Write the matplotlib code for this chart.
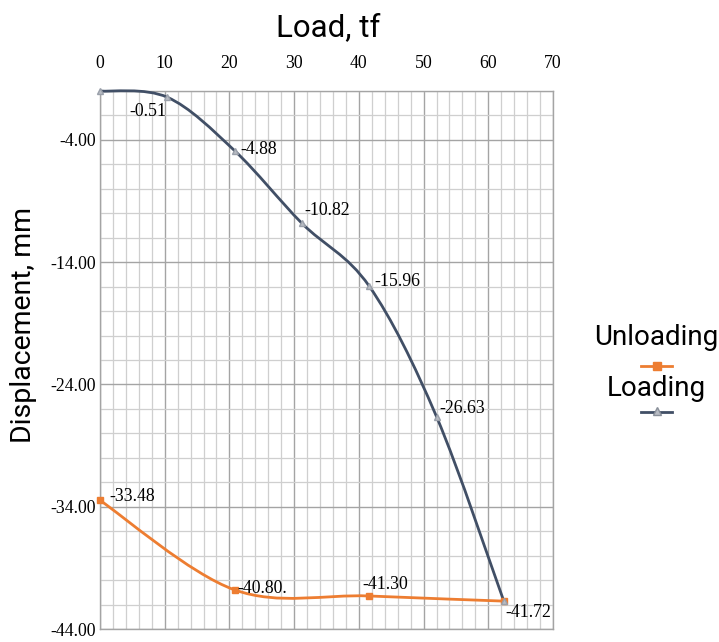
import numpy as np
import matplotlib
matplotlib.use("Agg")
import matplotlib.pyplot as plt
from matplotlib.path import Path
from matplotlib.patches import PathPatch
from matplotlib.lines import Line2D
from matplotlib.ticker import MultipleLocator, FixedLocator

# ---- data ----
load_loading = [0, 10.4, 20.8, 31.2, 41.6, 52.0, 62.4]
disp_loading = [0.0, -0.51, -4.88, -10.82, -15.96, -26.63, -41.72]
labels_loading = [None, "-0.51", "-4.88", "-10.82", "-15.96", "-26.63", "-41.72"]

load_unloading = [0, 20.8, 41.6, 62.4]
disp_unloading = [-33.48, -40.80, -41.30, -41.72]
labels_unloading = ["-33.48", "-40.80.", "-41.30", None]

x_ticks = [0, 10, 20, 30, 40, 50, 60, 70]
y_ticks = [-44, -34, -24, -14, -4]

series_names = ["Unloading", "Loading"]
c_load = "#414F66"
c_unload = "#ED7D31"

serif = ["Liberation Serif", "DejaVu Serif"]
sans = ["Roboto", "DejaVu Sans"]
fs_serif = 12.8


def smooth_path(x, y):
    pts = np.column_stack([x, y]).astype(float)
    n = len(pts)
    verts = [pts[0]]
    codes = [Path.MOVETO]
    for i in range(n - 1):
        p0 = pts[i - 1] if i > 0 else pts[i]
        p1 = pts[i]
        p2 = pts[i + 1]
        p3 = pts[i + 2] if i + 2 < n else pts[i + 1]
        c1 = p1 + (p2 - p0) / 6.0
        c2 = p2 - (p3 - p1) / 6.0
        verts += [c1, c2, p2]
        codes += [Path.CURVE4] * 3
    return Path(verts, codes)


W, H = 719, 642
fig = plt.figure(figsize=(W / 100, H / 100), dpi=100)
ax = fig.add_axes([100 / W, 1 - 629 / H, 453 / W, 538 / H])
ax.set_xlim(0, 70)
ax.set_ylim(-44, 0)

ax.xaxis.set_major_locator(FixedLocator(x_ticks))
ax.xaxis.set_minor_locator(MultipleLocator(2))
ax.yaxis.set_major_locator(FixedLocator(y_ticks))
ax.yaxis.set_minor_locator(MultipleLocator(2))
ax.xaxis.tick_top()
ax.tick_params(axis="both", which="both", length=0)
ax.tick_params(axis="x", pad=14, labelsize=fs_serif)
ax.tick_params(axis="y", pad=3, labelsize=fs_serif)
ax.set_yticklabels([f"{v:.2f}" for v in y_ticks], fontfamily=serif)
ax.set_xticklabels([str(v) for v in x_ticks], fontfamily=serif)

ax.grid(which="major", color="#a4a4a4", linewidth=1.0)
ax.grid(which="minor", color="#cfcfcf", linewidth=0.9)
ax.set_axisbelow(True)
for s in ax.spines.values():
    s.set_color("#a4a4a4")
    s.set_linewidth(1.0)

# smoothed series lines
ax.add_patch(PathPatch(smooth_path(load_unloading, disp_unloading), facecolor="none",
                       edgecolor=c_unload, linewidth=2.0, clip_on=False, zorder=3))
ax.add_patch(PathPatch(smooth_path(load_loading, disp_loading), facecolor="none",
                       edgecolor=c_load, linewidth=2.0, clip_on=False, zorder=3))

ax.plot(load_unloading, disp_unloading, linestyle="none", marker="s", markersize=5,
        color=c_unload, clip_on=False, zorder=4)
ax.plot(load_loading, disp_loading, linestyle="none", marker="^", markersize=4,
        markerfacecolor="#b8bcc4", markeredgecolor="#9aa0aa", clip_on=False, zorder=4)

# data labels (offsets in points)
off_load = [None, (-27, -10), (4, 1), (2, 9), (4, 3), (2, 6), (1, -8)]
off_unload = [(7, 3), (2, 1), (-5, 8), None]
for x, y, t, o in zip(load_loading, disp_loading, labels_loading, off_load):
    if t:
        ax.annotate(t, (x, y), xytext=o, textcoords="offset points", fontsize=fs_serif,
                    fontfamily=serif, va="center", ha="left", zorder=5,
                    annotation_clip=False)
for x, y, t, o in zip(load_unloading, disp_unloading, labels_unloading, off_unload):
    if t:
        ax.annotate(t, (x, y), xytext=o, textcoords="offset points", fontsize=fs_serif,
                    fontfamily=serif, va="center", ha="left", zorder=5,
                    annotation_clip=False)

# titles
fig.text(328 / W, 1 - 28 / H, "Load, tf", fontsize=22.5, fontfamily=sans,
         ha="center", va="center")
fig.text(24 / W, 1 - 325 / H, "Displacement, mm", fontsize=20.5, fontfamily=sans,
         ha="center", va="center", rotation=90)

# legend (text above key)
fig.text(656 / W, 1 - 338 / H, series_names[0], fontsize=20, fontfamily=sans,
         ha="center", va="center")
fig.add_artist(Line2D([641 / W, 672 / W], [1 - 366 / H, 1 - 366 / H], color=c_unload,
                      linewidth=2.0, transform=fig.transFigure))
fig.add_artist(Line2D([656.5 / W], [1 - 366 / H], linestyle="none", marker="s",
                      markersize=6, color=c_unload, transform=fig.transFigure))
fig.text(656 / W, 1 - 388 / H, series_names[1], fontsize=20, fontfamily=sans,
         ha="center", va="center")
fig.add_artist(Line2D([641 / W, 672 / W], [1 - 412 / H, 1 - 412 / H], color=c_load,
                      linewidth=2.0, transform=fig.transFigure))
fig.add_artist(Line2D([656.5 / W], [1 - 411 / H], linestyle="none", marker="^",
                      markersize=6, markerfacecolor="#b8bcc4", markeredgecolor="#8a909a",
                      transform=fig.transFigure))

fig.savefig("out.png", dpi=100)
